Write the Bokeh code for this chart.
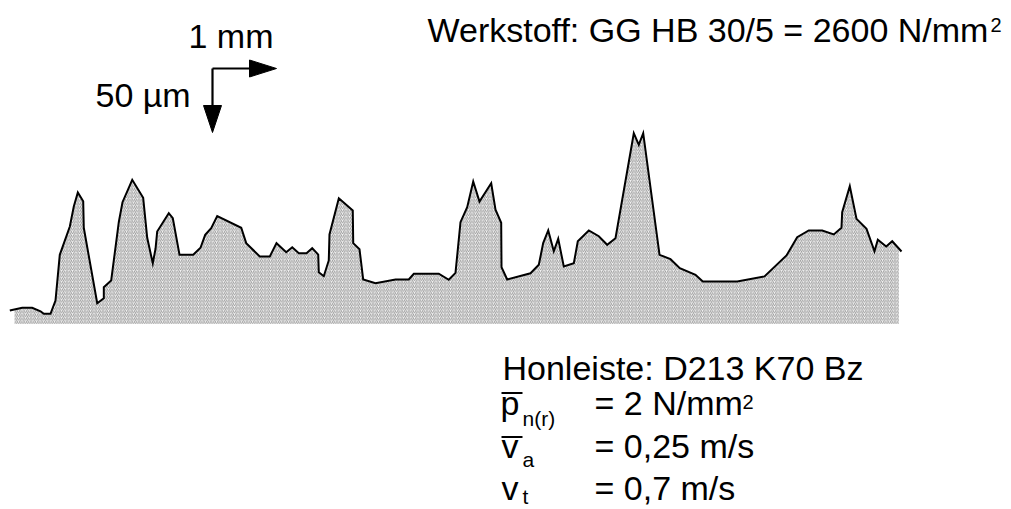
import numpy as np
from bokeh.plotting import figure
from bokeh.models import Label
from bokeh.embed import file_html
from bokeh.resources import INLINE

# Surface profile of the honed cast-iron bore: position along the trace (mm)
# and peak height above the profile base (µm).
profile_x_mm = [
    0.000, 0.194, 0.350, 0.480, 0.531, 0.636, 0.714, 0.781, 0.938, 1.000,
    1.063, 1.147, 1.156, 1.366, 1.469, 1.469, 1.584, 1.703, 1.761, 1.913,
    2.084, 2.147, 2.234, 2.277, 2.303, 2.484, 2.547, 2.652, 2.866, 2.980,
    3.053, 3.147, 3.241, 3.616, 3.694, 3.906, 4.063, 4.167, 4.319, 4.413,
    4.516, 4.636, 4.725, 4.819, 4.828, 4.906, 4.984, 4.995, 5.141, 5.359,
    5.366, 5.464, 5.522, 5.714, 6.027, 6.234, 6.313, 6.703, 6.859, 6.964,
    7.042, 7.147, 7.241, 7.339, 7.522, 7.589, 7.678, 7.683, 7.772, 8.136,
    8.266, 8.334, 8.413, 8.500, 8.569, 8.656, 8.813, 8.875, 9.047, 9.203,
    9.334, 9.464, 9.750, 9.828, 9.897, 10.152, 10.323, 10.469, 10.714, 10.828,
    11.366, 11.792, 12.136, 12.303, 12.484, 12.694, 12.875, 12.995, 13.006, 13.125,
    13.230, 13.386, 13.511, 13.563, 13.694, 13.788, 13.933,
]
profile_z_um = [
    10.4, 12.5, 12.5, 9.8, 7.8, 7.8, 18.2, 53.9, 76.0, 91.6,
    102.6, 95.8, 75.0, 16.1, 20.0, 28.6, 33.8, 79.4, 95.0, 112.5,
    98.4, 67.2, 47.3, 58.6, 72.1, 86.4, 82.5, 53.9, 53.9, 59.4,
    69.5, 74.7, 84.1, 75.0, 63.0, 52.6, 52.6, 63.0, 55.9, 59.8,
    55.2, 55.2, 59.1, 54.1, 40.3, 37.2, 49.5, 69.8, 98.1, 88.5,
    63.0, 58.3, 34.6, 31.7, 34.6, 34.6, 39.1, 39.1, 34.4, 39.8,
    79.4, 91.1, 111.2, 95.5, 109.8, 89.1, 78.9, 44.2, 34.6, 39.5,
    46.1, 63.0, 72.9, 56.7, 66.4, 44.8, 47.3, 64.5, 72.9, 68.4,
    61.7, 66.9, 148.9, 139.8, 148.9, 53.9, 50.5, 43.4, 38.3, 33.0,
    33.0, 37.0, 53.4, 67.7, 72.9, 72.9, 69.8, 75.0, 87.2, 107.5,
    82.0, 74.2, 56.7, 65.6, 60.4, 64.5, 56.5,
]
# extent of the hatched material section (mm)
section_x_mm = [0.073, 13.891]

# scale bar lengths
scale_x_mm = 1.0
scale_z_um = 50.0

W, H = 1011, 509
PX_PER_MM = 64.0
PX_PER_UM = 64.0 / 50.0
X0_PX = 9.3      # page column of the trace start
BASE_PY = 323.3  # page row of the profile base


def sx(px):
    return (px - X0_PX) / PX_PER_MM


def sy(py):
    return (BASE_PY - py) / PX_PER_UM


p = figure(
    width=W, height=H,
    x_range=(sx(0), sx(W)), y_range=(sy(H), sy(0)),
    output_backend="svg", toolbar_location=None,
    x_axis_location=None, y_axis_location=None,
    min_border=0, min_border_left=0, min_border_right=0,
    min_border_top=0, min_border_bottom=0,
)
p.outline_line_color = None
p.xgrid.visible = False
p.ygrid.visible = False
p.background_fill_color = "white"
p.border_fill_color = "white"

# hatched material section below the profile
xs = np.array(profile_x_mm)
zs = np.array(profile_z_um)
a, b = section_x_mm
inner = (xs > a) & (xs < b)
sec_x = np.concatenate([[a], xs[inner], [b]])
sec_z = np.concatenate([[np.interp(a, xs, zs)], zs[inner], [np.interp(b, xs, zs)]])
poly_x = list(sec_x) + [b, a]
poly_z = list(sec_z) + [0.0, 0.0]
p.patch(poly_x, poly_z, fill_color="#f5f5f5", line_color=None,
        hatch_pattern="/", hatch_color="#8e8e8e", hatch_scale=3.6, hatch_weight=0.9)

# profile trace
p.line(profile_x_mm, profile_z_um, line_color="black", line_width=2.0,
       line_join="miter")

# scale arrows
cx, cz = sx(212), sy(68)
p.line([cx, cx + scale_x_mm * 0.6], [cz, cz], line_color="black", line_width=2.2)
p.line([cx, cx], [cz, cz - scale_z_um * 0.6], line_color="black", line_width=2.2)
p.patch([sx(249), cx + scale_x_mm, sx(249)], [sy(59.5), cz, sy(76.5)],
        fill_color="black", line_color="black", line_width=1)
p.patch([sx(203), cx, sx(221)], [sy(105), cz - scale_z_um, sy(105)],
        fill_color="black", line_color="black", line_width=1)

FONT = "Liberation Sans"


def label(text, px, baseline_py, size):
    # Label places alphabetic baselines a little low; lift by a share of the em
    py = baseline_py - 0.36 * size
    p.add_layout(Label(x=sx(px), y=sy(py), text=text, text_font=FONT,
                       text_font_size=f"{size}px", text_color="black",
                       text_align="left", text_baseline="alphabetic"))


label("1 mm", 188, 47.5, 34)
label("50 µm", 95, 106.5, 34)

label("Werkstoff: GG HB 30/5 = 2600 N/mm", 427, 41.5, 34)
label("2", 990, 32, 20)

label("Honleiste: D213 K70 Bz", 502, 380, 34)
label("p", 500, 414.5, 34)
label("n(r)", 522, 426, 21)
label("= 2 N/mm", 594, 414.5, 34)
label("2", 742, 409, 20)
label("v", 501, 458, 34)
label("a", 522, 466.5, 21)
label("= 0,25 m/s", 594, 458, 34)
label("v", 501, 499.5, 34)
label("t", 522, 504, 21)
label("= 0,7 m/s", 594, 499.5, 34)

# mean-value bars over p and v
p.segment(x0=[sx(501), sx(501)], y0=[sy(392.5), sy(436.5)],
          x1=[sx(522), sx(522)], y1=[sy(392.5), sy(436.5)],
          line_color="black", line_width=2)

open("out.html", "w").write(file_html(p, INLINE))
